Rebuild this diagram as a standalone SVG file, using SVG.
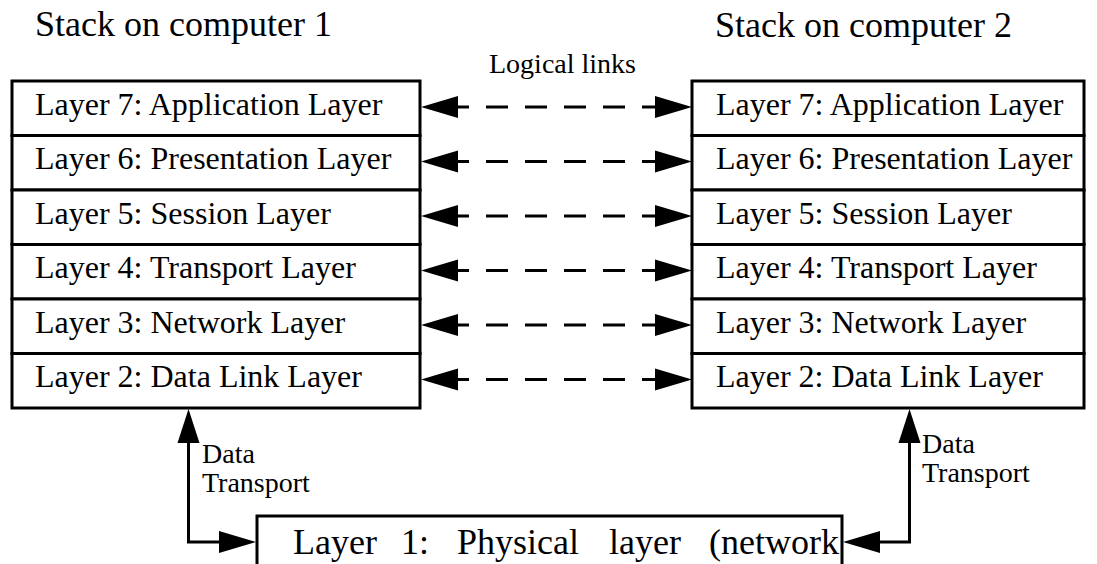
<svg xmlns="http://www.w3.org/2000/svg" width="1097" height="564" viewBox="0 0 1097 564">
  <style>
    .box { fill: #fff; stroke: #000; stroke-width: 3; }
    .lbl { font-family: "Liberation Serif", "Times New Roman", serif; fill: #000; }
    .layer { font-size: 32px; }
    .title { font-size: 36px; }
    .small { font-size: 28px; }
    .big { font-size: 36px; }
    .dash { stroke: #000; stroke-width: 3; fill: none; stroke-dasharray: 22 17; stroke-dashoffset: 11; }
    .wire { stroke: #000; stroke-width: 3; fill: none; }
    .head { fill: #000; }
  </style>

  <!-- titles -->
  <text class="lbl title" x="35" y="36">Stack on computer 1</text>
  <text class="lbl title" x="715" y="37">Stack on computer 2</text>
  <text class="lbl small" x="489" y="73">Logical links</text>

  <!-- stack on computer 1 -->
  <g id="stack1">
    <g id="s1-l7"><rect class="box" x="12" y="81" width="408" height="54.5"/><text class="lbl layer" x="35" y="114.5">Layer 7: Application Layer</text></g>
    <g id="s1-l6"><rect class="box" x="12" y="135.5" width="408" height="54.5"/><text class="lbl layer" x="35" y="169">Layer 6: Presentation Layer</text></g>
    <g id="s1-l5"><rect class="box" x="12" y="190" width="408" height="54.5"/><text class="lbl layer" x="35" y="223.5">Layer 5: Session Layer</text></g>
    <g id="s1-l4"><rect class="box" x="12" y="244.5" width="408" height="54.5"/><text class="lbl layer" x="35" y="278">Layer 4: Transport Layer</text></g>
    <g id="s1-l3"><rect class="box" x="12" y="299" width="408" height="54.5"/><text class="lbl layer" x="35" y="332.5">Layer 3: Network Layer</text></g>
    <g id="s1-l2"><rect class="box" x="12" y="353.5" width="408" height="54.5"/><text class="lbl layer" x="35" y="387">Layer 2: Data Link Layer</text></g>
  </g>

  <!-- stack on computer 2 -->
  <g id="stack2">
    <g id="s2-l7"><rect class="box" x="692" y="81" width="392" height="54.5"/><text class="lbl layer" x="716" y="114.5">Layer 7: Application Layer</text></g>
    <g id="s2-l6"><rect class="box" x="692" y="135.5" width="392" height="54.5"/><text class="lbl layer" x="716" y="169">Layer 6: Presentation Layer</text></g>
    <g id="s2-l5"><rect class="box" x="692" y="190" width="392" height="54.5"/><text class="lbl layer" x="716" y="223.5">Layer 5: Session Layer</text></g>
    <g id="s2-l4"><rect class="box" x="692" y="244.5" width="392" height="54.5"/><text class="lbl layer" x="716" y="278">Layer 4: Transport Layer</text></g>
    <g id="s2-l3"><rect class="box" x="692" y="299" width="392" height="54.5"/><text class="lbl layer" x="716" y="332.5">Layer 3: Network Layer</text></g>
    <g id="s2-l2"><rect class="box" x="692" y="353.5" width="392" height="54.5"/><text class="lbl layer" x="716" y="387">Layer 2: Data Link Layer</text></g>
  </g>

  <!-- physical layer -->
  <g id="physical">
    <rect class="box" x="257" y="516" width="585" height="80"/>
    <text class="lbl big" y="554"><tspan x="293">Layer</tspan><tspan x="401">1:</tspan><tspan x="457">Physical</tspan><tspan x="609">layer</tspan><tspan x="709">(network</tspan></text>
  </g>

  <!-- connectors -->
  <g id="connectors">
    <!-- logical links between peer layers -->
    <g id="logical">
      <path class="dash" d="M458 107H656"/>
      <path class="head" d="M421 107L458 96V118Z"/><path class="head" d="M692 107L655 96V118Z"/>
      <path class="dash" d="M458 161.5H656"/>
      <path class="head" d="M421 161.5L458 150.5V172.5Z"/><path class="head" d="M692 161.5L655 150.5V172.5Z"/>
      <path class="dash" d="M458 216H656"/>
      <path class="head" d="M421 216L458 205V227Z"/><path class="head" d="M692 216L655 205V227Z"/>
      <path class="dash" d="M458 270.5H656"/>
      <path class="head" d="M421 270.5L458 259.5V281.5Z"/><path class="head" d="M692 270.5L655 259.5V281.5Z"/>
      <path class="dash" d="M458 325H656"/>
      <path class="head" d="M421 325L458 314V336Z"/><path class="head" d="M692 325L655 314V336Z"/>
      <path class="dash" d="M458 379.5H656"/>
      <path class="head" d="M421 379.5L458 368.5V390.5Z"/><path class="head" d="M692 379.5L655 368.5V390.5Z"/>
    </g>
    <!-- data transport to the physical layer -->
    <g id="transport-left">
      <path class="wire" d="M188.5 440V542H222"/>
      <path class="head" d="M188.5 409L177.5 443H199.5Z"/>
      <path class="head" d="M256 542L219 531V553Z"/>
      <text class="lbl small" x="202" y="463">Data</text>
      <text class="lbl small" x="202" y="492">Transport</text>
    </g>
    <g id="transport-right">
      <path class="wire" d="M909.5 440V542H876"/>
      <path class="head" d="M909.5 409L898.5 443H920.5Z"/>
      <path class="head" d="M843 542L880 531V553Z"/>
      <text class="lbl small" x="922" y="453">Data</text>
      <text class="lbl small" x="922" y="482">Transport</text>
    </g>
  </g>
</svg>
